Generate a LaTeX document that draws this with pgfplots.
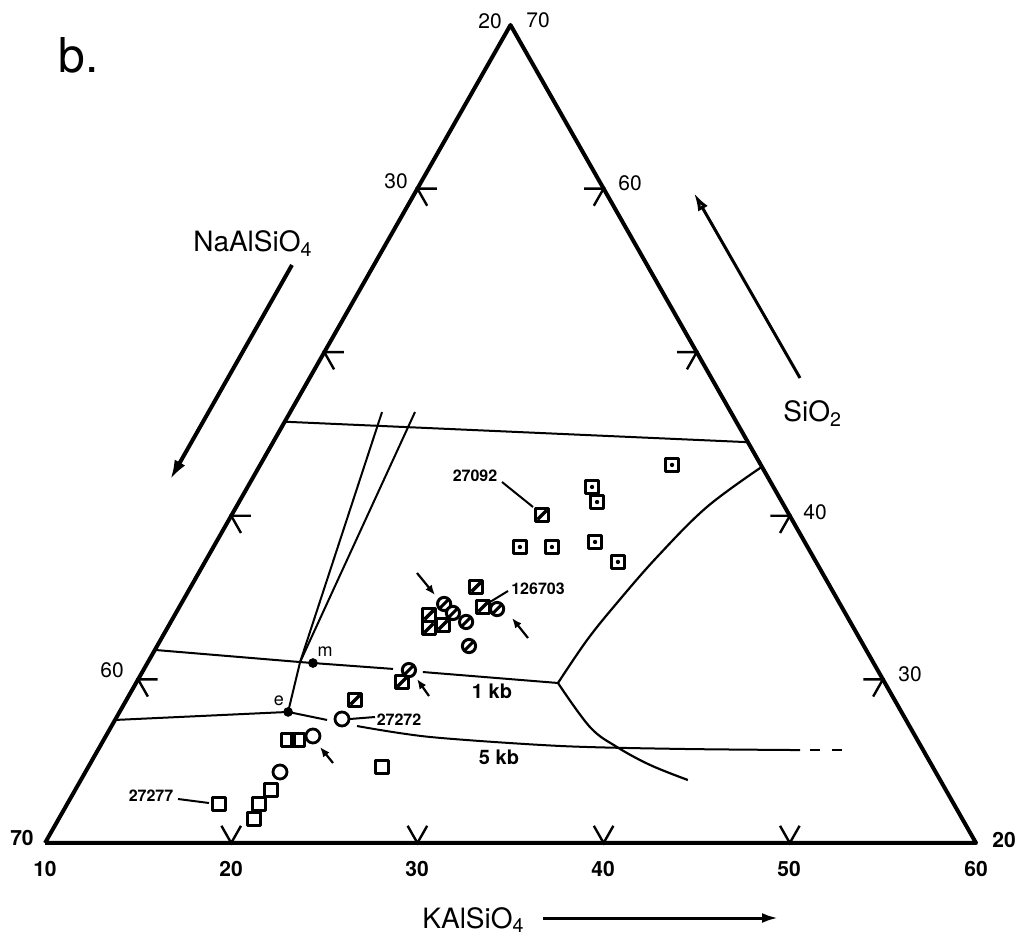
\documentclass[border=0pt]{standalone}
\usepackage{pgfplots}
\usepackage{pgfplotstable}
\pgfplotsset{compat=1.18}
\usepackage{fontspec}
\setmainfont{TeX Gyre Heros}
\usetikzlibrary{arrows.meta}

\pgfdeclareplotmark{sqdot}{%
  \pgfpathrectangle{\pgfqpoint{-\pgfplotmarksize}{-\pgfplotmarksize}}{\pgfqpoint{2\pgfplotmarksize}{2\pgfplotmarksize}}%
  \pgfusepathqfillstroke
  \begin{pgfscope}%
  \pgfsetfillcolor{black}%
  \pgfpathcircle{\pgfpointorigin}{0.33\pgfplotmarksize}%
  \pgfusepathqfill
  \end{pgfscope}}
\pgfdeclareplotmark{sqslash}{%
  \pgfpathrectangle{\pgfqpoint{-\pgfplotmarksize}{-\pgfplotmarksize}}{\pgfqpoint{2\pgfplotmarksize}{2\pgfplotmarksize}}%
  \pgfusepathqfillstroke
  \pgfpathmoveto{\pgfqpoint{-0.7\pgfplotmarksize}{-0.7\pgfplotmarksize}}%
  \pgfpathlineto{\pgfqpoint{0.7\pgfplotmarksize}{0.7\pgfplotmarksize}}%
  \pgfusepathqstroke}
\pgfdeclareplotmark{cislash}{%
  \pgfpathcircle{\pgfpointorigin}{\pgfplotmarksize}%
  \pgfusepathqfillstroke
  \pgfpathmoveto{\pgfqpoint{-0.6\pgfplotmarksize}{-0.6\pgfplotmarksize}}%
  \pgfpathlineto{\pgfqpoint{0.6\pgfplotmarksize}{0.6\pgfplotmarksize}}%
  \pgfusepathqstroke}

% ternary (KAlSiO4 = k, SiO2 = q) -> cartesian
\pgfplotsset{/pgfplots/table/tern/.style={x expr=\thisrow{k}+0.5*\thisrow{q}, y=q, row sep=\\}}

\pgfplotstableread{
k q
32.12 43.11
28.50 41.76
29.23 40.84
26.46 38.09
28.18 38.09
30.34 38.40
32.18 37.18
}\dotsq
\pgfplotstableread{
k q
26.67 40.05
25.33 35.65
26.31 34.43
23.65 33.94
24.05 33.14
24.71 33.33
24.25 29.84
22.28 28.74
}\slsq
\pgfplotstableread{
k q
24.13 34.61
24.88 34.06
25.86 33.51
27.13 34.30
26.75 32.04
24.26 30.57
}\slci
\pgfplotstableread{
k q
22.16 27.58
21.12 26.54
20.45 24.34
}\opci
\pgfplotstableread{
k q
19.90 26.30
20.44 26.30
25.77 24.65
20.52 23.24
20.30 22.38
20.49 21.47
18.15 22.38
}\opsq

\begin{document}
\begin{tikzpicture}
\begin{axis}[
  scale only axis, width=465.5pt, height=409pt,
  xmin=20, xmax=70, ymin=20, ymax=70,
  hide axis, clip=false,
  at={(0pt,0pt)}, anchor=south west,
]
% frame
\addplot[black, line width=2pt, line join=round] table[x expr=\thisrow{k}+0.5*\thisrow{q}, y=q, row sep=\\] {k q\\ 10 20\\ 60 20\\ 10 70\\ 10 20\\};
% ticks
\draw[line width=1.2pt] (26.05,30) -- (25,30) -- (25.525,28.95);
\draw[line width=1.2pt] (31.05,40) -- (30,40) -- (30.525,38.95);
\draw[line width=1.2pt] (36.05,50) -- (35,50) -- (35.525,48.95);
\draw[line width=1.2pt] (41.05,60) -- (40,60) -- (40.525,58.95);
\draw[line width=1.2pt] (63.95,30) -- (65,30) -- (64.475,28.95);
\draw[line width=1.2pt] (58.95,40) -- (60,40) -- (59.475,38.95);
\draw[line width=1.2pt] (53.95,50) -- (55,50) -- (54.475,48.95);
\draw[line width=1.2pt] (48.95,60) -- (50,60) -- (49.475,58.95);
\draw[line width=1.2pt] (29.475,21.05) -- (30,20) -- (30.525,21.05);
\draw[line width=1.2pt] (39.475,21.05) -- (40,20) -- (40.525,21.05);
\draw[line width=1.2pt] (49.475,21.05) -- (50,20) -- (50.525,21.05);
\draw[line width=1.2pt] (59.475,21.05) -- (60,20) -- (60.525,21.05);
% phase boundaries
\addplot[black, line width=1pt] table[tern] {k q\\ 10 45.75\\ 35.5 44.5\\};
\addplot[black, line width=1pt] table[tern] {k q\\ 14.93 46.34\\ 18.17 31.06\\ 19.05 28.01\\};
\addplot[black, line width=1pt] table[tern] {k q\\ 16.70 46.34\\ 18.17 31.06\\};
\addplot[black, line width=1pt] table[tern] {k q\\ 10 31.8\\ 18.17 31.06\\ 18.89 31.00\\ 23.37 30.64\\};
\addplot[black, line width=1pt] table[tern] {k q\\ 25.07 30.45\\ 32.66 29.78\\};
\addplot[black, line width=1pt] table[tern] {k q\\ 10 27.52\\ 19.05 28.01\\ 21.39 27.52\\};
\addplot[black, line width=1pt, smooth, tension=0.5] table[tern] {k q\\ 23.18 27.15\\ 27.44 26.48\\ 34.70 25.93\\ 41.23 25.75\\ 47.71 25.68\\};
\addplot[black, line width=1pt] table[tern] {k q\\ 48.24 25.68\\ 48.78 25.68\\};
\addplot[black, line width=1pt] table[tern] {k q\\ 49.43 25.68\\ 49.96 25.68\\};
\addplot[black, line width=1.1pt, smooth, tension=0.6] table[tern] {k q\\ 32.66 29.78\\ 32.91 32.41\\ 33.38 34.67\\ 34.13 37.48\\ 35.28 40.54\\ 37.04 43.04\\};
\addplot[black, line width=1.1pt, smooth, tension=0.6] table[tern] {k q\\ 32.66 29.78\\ 35.72 27.09\\ 37.78 25.87\\ 40.11 24.77\\ 42.60 23.85\\};
% invariant points m and e
\addplot[only marks, mark=*, mark size=2.2pt, black] table[tern] {k q\\ 18.89 31.00\\ 19.05 28.01\\};
% samples
\addplot[only marks, mark=sqdot, mark size=3.3pt, line width=1.8pt, draw=black, fill=white, line join=round] table[x expr=\thisrow{k}+0.5*\thisrow{q}, y=q] {\dotsq};
\addplot[only marks, mark=sqslash, mark size=3.3pt, line width=1.7pt, draw=black, fill=white, line join=round] table[x expr=\thisrow{k}+0.5*\thisrow{q}, y=q] {\slsq};
\addplot[only marks, mark=cislash, mark size=3.3pt, line width=1.5pt, draw=black, fill=white] table[x expr=\thisrow{k}+0.5*\thisrow{q}, y=q] {\slci};
\addplot[only marks, mark=o, mark size=3.5pt, line width=1.4pt, draw=black, fill=white, mark options={fill=white}] table[x expr=\thisrow{k}+0.5*\thisrow{q}, y=q] {\opci};
\addplot[only marks, mark=square, mark size=3.3pt, line width=1.5pt, draw=black, line join=round, mark options={fill=white}] table[x expr=\thisrow{k}+0.5*\thisrow{q}, y=q] {\opsq};
\coordinate (P0) at (17.5832,71.528);
\coordinate (P1) at (72.739,13.888);
\end{axis}
\begin{scope}[shift={(P0)}, x=0.5pt, y=-0.5pt]
  \node[font=\fontsize{24}{28}\selectfont] at (79,55) {b.};
  \node[font=\fontsize{14}{16}\selectfont, anchor=base west, inner sep=0pt] at (193,252) {NaAlSiO\textsubscript{4}};
  \node[font=\fontsize{14}{16}\selectfont, anchor=base west, inner sep=0pt] at (783,422) {SiO\textsubscript{2}};
  \node[font=\fontsize{14}{16}\selectfont, anchor=base west, inner sep=0pt] at (422,928) {KAlSiO\textsubscript{4}};
  \draw[line width=2pt, -{Latex[open, length=10pt, width=6pt]}] (292,265) -- (170,480);
  \draw[line width=1.5pt, -{Latex[open, length=9pt, width=5.5pt]}] (800,378) -- (694,193);
  \draw[line width=1.5pt, -{Latex[length=8pt, width=5pt]}] (543,918) -- (778,918);
  % tick labels
  \begin{scope}[every node/.style={font=\fontsize{10.5}{12}\selectfont, inner sep=0pt}]
    \node at (490,21) {20};
    \node at (538,20) {70};
    \node at (396,181) {30};
    \node at (112,670) {60};
    \node at (630,183) {60};
    \node at (815,512) {40};
    \node at (910,674) {30};
  \end{scope}
  \begin{scope}[every node/.style={font=\fontsize{10.5}{12}\selectfont\bfseries, inner sep=0pt}]
    \node at (22,838) {70};
    \node at (1004,840) {20};
    \node at (45,869) {10};
    \node at (231,869) {20};
    \node at (417,869) {30};
    \node at (603,869) {40};
    \node at (789,869) {50};
    \node at (976,869) {60};
  \end{scope}
  % sample labels and leaders
  \begin{scope}[every node/.style={font=\fontsize{8}{9}\selectfont\bfseries, inner sep=0pt}]
    \node at (475,476) {27092};
    \node at (538,589) {126703};
    \node at (399,720) {27272};
    \node at (151,796) {27277};
  \end{scope}
  \draw[line width=1pt] (502,482) -- (533,507);
  \draw[line width=1pt] (508,591) -- (490,602);
  \draw[line width=1pt] (350,719) -- (375,717);
  \draw[line width=1pt] (178,799) -- (209,803);
  \node[font=\fontsize{9}{10}\selectfont, inner sep=0pt] at (325,652) {m};
  \node[font=\fontsize{9}{10}\selectfont, inner sep=0pt] at (279,701) {e};
  \node[font=\fontsize{10}{11}\selectfont\bfseries, inner sep=0pt] at (492,691) {1 kb};
  \node[font=\fontsize{10}{11}\selectfont\bfseries, inner sep=0pt] at (499,757) {5 kb};
  % pointer arrows
  \draw[line width=1.1pt, -{Latex[length=5pt, width=4pt]}] (417,573) -- (435,595);
  \draw[line width=1.1pt, -{Latex[length=5pt, width=4pt]}] (528,638) -- (512,618);
  \draw[line width=1.1pt, -{Latex[length=5pt, width=4pt]}] (429,696) -- (417,679);
  \draw[line width=1.1pt, -{Latex[length=5pt, width=4pt]}] (333,763) -- (320,747);
\end{scope}
\pgfresetboundingbox
\path[use as bounding box] (P0) rectangle (P1);
\end{tikzpicture}
\end{document}
